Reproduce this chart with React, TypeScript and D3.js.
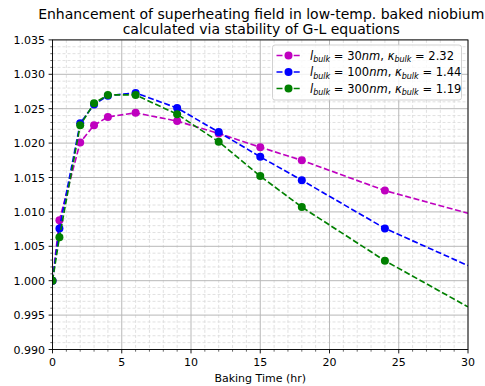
import React from "react";
import * as d3 from "d3";

const bakingTimes = [0, 0.5, 2, 3, 4, 6, 9, 12, 15, 18, 24];
const extTime = 30;
const seriesNames = ["30nm", "100nm", "300nm"];
const kappaValues = ["2.32", "1.44", "1.19"];
const series30 = [1.0, 1.0088, 1.0201, 1.0226, 1.0238, 1.0244, 1.0232, 1.0214, 1.0194, 1.0175, 1.0131];
const series100 = [1.0, 1.0076, 1.0229, 1.0256, 1.0269, 1.0273, 1.0251, 1.0216, 1.018, 1.0146, 1.0076];
const series300 = [1.0, 1.0063, 1.0226, 1.0258, 1.027, 1.027, 1.0242, 1.0202, 1.0152, 1.0107, 1.0029];
const extValues = [1.0098, 1.0022, 0.9962];
const colors = ["#bf00bf", "#0000ff", "#008000"];
const xTicks = [0, 5, 10, 15, 20, 25, 30];
const yTicks = [0.99, 0.995, 1.0, 1.005, 1.01, 1.015, 1.02, 1.025, 1.03, 1.035];
const titleLines = [
  "Enhancement of superheating field in low-temp. baked niobium",
  "calculated via stability of G-L equations",
];
const xLabel = "Baking Time (hr)";

const W = 485;
const H = 386;
const left = 52.5;
const right = 468;
const top = 39.9;
const bottom = 349.5;
const FONT = "DejaVu Sans, sans-serif";

export default function App() {
  const x = d3.scaleLinear().domain([0, 30]).range([left, right]);
  const y = d3.scaleLinear().domain([0.99, 1.035]).range([bottom, top]);
  const allSeries = [series30, series100, series300];
  const xMinor = d3.range(0, 31, 1).filter((v) => v % 5 !== 0);
  const yMinor = d3.range(0, 46).map((i) => 0.99 + i * 0.001).filter((_, i) => i % 5 !== 0);
  const line = d3
    .line<[number, number]>()
    .x((d) => x(d[0]))
    .y((d) => y(d[1]));

  const legendX = 272.5;
  const legendY = 45;
  const legendW = 189;
  const legendH = 55;
  const rowY = [55.5, 72, 88.5];

  return (
    <svg
      width={W}
      height={H}
      style={{ position: "absolute", left: 0, top: 0, background: "#fff" }}
      fontFamily={FONT}
    >
      <defs>
        <clipPath id="plotclip">
          <rect x={left} y={top} width={right - left} height={bottom - top} />
        </clipPath>
      </defs>
      <rect x={0} y={0} width={W} height={H} fill="#fff" />
      {/* minor grid */}
      <g stroke="#d9d9d9" strokeWidth={0.8} strokeDasharray="3,2">
        {xMinor.map((v) => (
          <line key={"xm" + v} x1={x(v)} x2={x(v)} y1={top} y2={bottom} />
        ))}
        {yMinor.map((v, i) => (
          <line key={"ym" + i} x1={left} x2={right} y1={y(v)} y2={y(v)} />
        ))}
      </g>
      {/* major grid */}
      <g stroke="#b8b8b8" strokeWidth={1}>
        {xTicks.map((v) => (
          <line key={"xg" + v} x1={x(v)} x2={x(v)} y1={top} y2={bottom} />
        ))}
        {yTicks.map((v) => (
          <line key={"yg" + v} x1={left} x2={right} y1={y(v)} y2={y(v)} />
        ))}
      </g>
      {/* data */}
      <g clipPath="url(#plotclip)">
        {allSeries.map((s, si) => {
          const pts: [number, number][] = bakingTimes.map((t, i) => [t, s[i]]);
          pts.push([extTime, extValues[si]]);
          return (
            <g key={"s" + si}>
              <path
                d={line(pts) || ""}
                fill="none"
                stroke={colors[si]}
                strokeWidth={1.65}
                strokeDasharray="6,2.6"
              />
              {bakingTimes.map((t, i) => (
                <circle key={i} cx={x(t)} cy={y(s[i])} r={4} fill={colors[si]} />
              ))}
            </g>
          );
        })}
      </g>
      {/* spines */}
      <rect x={left} y={top} width={right - left} height={bottom - top} fill="none" stroke="#000" strokeWidth={0.9} />
      {/* ticks */}
      <g stroke="#000" strokeWidth={0.9}>
        {xTicks.map((v) => (
          <line key={"xt" + v} x1={x(v)} x2={x(v)} y1={bottom} y2={bottom + 3.9} />
        ))}
        {xMinor.map((v) => (
          <line key={"xmt" + v} x1={x(v)} x2={x(v)} y1={bottom} y2={bottom + 2.2} strokeWidth={0.6} />
        ))}
        {yTicks.map((v) => (
          <line key={"yt" + v} x1={left - 3.9} x2={left} y1={y(v)} y2={y(v)} />
        ))}
        {yMinor.map((v, i) => (
          <line key={"ymt" + i} x1={left - 2.2} x2={left} y1={y(v)} y2={y(v)} strokeWidth={0.6} />
        ))}
      </g>
      <g fontSize={11} fill="#000">
        {xTicks.map((v) => (
          <text key={"xl" + v} x={x(v)} y={bottom + 16.5} textAnchor="middle">
            {v}
          </text>
        ))}
        {yTicks.map((v) => (
          <text key={"yl" + v} x={left - 7.5} y={y(v) + 4} textAnchor="end">
            {d3.format(".3f")(v)}
          </text>
        ))}
        <text x={(left + right) / 2} y={382} textAnchor="middle">
          {xLabel}
        </text>
      </g>
      <g fontSize={14} fill="#000">
        {titleLines.map((t, i) => (
          <text key={i} x={(left + right) / 2 + 1} y={18.5 + i * 15.5} textAnchor="middle">
            {t}
          </text>
        ))}
      </g>
      {/* legend */}
      <rect
        x={legendX}
        y={legendY}
        width={legendW}
        height={legendH}
        rx={2.5}
        fill="#fff"
        fillOpacity={0.8}
        stroke="#cccccc"
        strokeWidth={0.9}
      />
      {seriesNames.map((name, i) => (
        <g key={"lg" + i}>
          <line
            x1={276.5}
            x2={300.5}
            y1={rowY[i]}
            y2={rowY[i]}
            stroke={colors[i]}
            strokeWidth={1.65}
            strokeDasharray="6,2.6"
          />
          <circle cx={288.5} cy={rowY[i]} r={4} fill={colors[i]} />
          <text x={310} y={rowY[i] + 4} fontSize={11.5} fill="#000">
            <tspan fontStyle="italic">l</tspan>
            <tspan fontStyle="italic" fontSize={8} dy={2.6}>bulk</tspan>
            <tspan dy={-2.6}>{" = " + name.replace("nm", "")}</tspan>
            <tspan fontStyle="italic">nm</tspan>
            <tspan>{", "}</tspan>
            <tspan fontStyle="italic">κ</tspan>
            <tspan fontStyle="italic" fontSize={8} dy={2.6}>bulk</tspan>
            <tspan dy={-2.6}>{" = " + kappaValues[i]}</tspan>
          </text>
        </g>
      ))}
    </svg>
  );
}
